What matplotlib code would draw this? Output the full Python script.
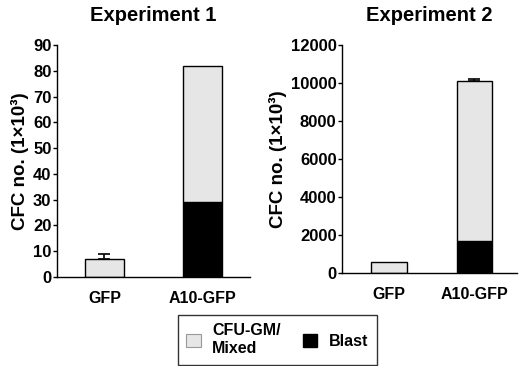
import matplotlib
matplotlib.use('Agg')
import matplotlib.pyplot as plt
from matplotlib.patches import Patch

plt.rcParams['font.family'] = ['Liberation Sans', 'DejaVu Sans']
plt.rcParams['font.weight'] = 'bold'

groups = ['GFP', 'A10-GFP']

# experiment 1
exp1_blast = [0, 29]
exp1_cfu = [7, 53]
exp1_err = [2, 0]

# experiment 2
exp2_blast = [0, 1700]
exp2_cfu = [600, 8400]
exp2_err = [0, 120]

grey = '#e6e6e6'

fig = plt.figure(figsize=(5.2, 3.66), dpi=100)
ax1 = fig.add_axes([0.1096, 0.243, 0.371, 0.634])
ax2 = fig.add_axes([0.658, 0.254, 0.336, 0.623])


def draw(ax, blast, cfu, err, width, ylim, step, title):
    x = range(len(groups))
    tops = [b + c for b, c in zip(blast, cfu)]
    ax.bar(x, blast, width, color='black', edgecolor='black', linewidth=1)
    ax.bar(x, cfu, width, bottom=blast, color=grey, edgecolor='black', linewidth=1)
    for i in x:
        if err[i] > 0:
            ax.errorbar(i, tops[i], yerr=[[0], [err[i]]], fmt='none',
                        ecolor='black', elinewidth=1.2, capsize=4, capthick=1.2)
    ax.set_ylim(*ylim)
    ax.set_yticks(range(ylim[0], ylim[1] + 1, step))
    ax.set_xticks(list(x))
    ax.set_xticklabels(groups, fontsize=11.5, fontweight='bold')
    ax.tick_params(axis='x', length=0, pad=10)
    ax.tick_params(axis='y', length=3, width=1, labelsize=12, pad=1)
    for lab in ax.get_yticklabels():
        lab.set_fontweight('bold')
    ax.spines['top'].set_visible(False)
    ax.spines['right'].set_visible(False)
    ax.spines['left'].set_linewidth(1)
    ax.spines['bottom'].set_linewidth(1)
    ax.set_ylabel('CFC no. (1\u00d710\u00b3)', fontsize=13.5, fontweight='bold', labelpad=3)
    ax.set_title(title, fontsize=14.5, fontweight='bold', pad=17)


draw(ax1, exp1_blast, exp1_cfu, exp1_err, 0.40, (0, 90), 10, 'Experiment 1')
ax1.set_xlim(-0.484, 1.484)
draw(ax2, exp2_blast, exp2_cfu, exp2_err, 0.42, (0, 12000), 2000, 'Experiment 2')
ax2.set_xlim(-0.55, 1.497)

handles = [Patch(facecolor=grey, edgecolor='#999999', linewidth=0.8),
           Patch(facecolor='black', edgecolor='black')]
leg = fig.legend(handles, ['CFU-GM/\nMixed', 'Blast'], ncol=2,
                 loc='center', bbox_to_anchor=(0.533, 0.072),
                 frameon=True, fancybox=False, edgecolor='black',
                 prop={'weight': 'bold', 'size': 11.5},
                 handlelength=0.9, handleheight=0.9, handletextpad=0.7,
                 columnspacing=1.4, borderpad=0.55, labelspacing=0.0)
leg.get_frame().set_linewidth(1)

fig.savefig('out.png', dpi=100)
